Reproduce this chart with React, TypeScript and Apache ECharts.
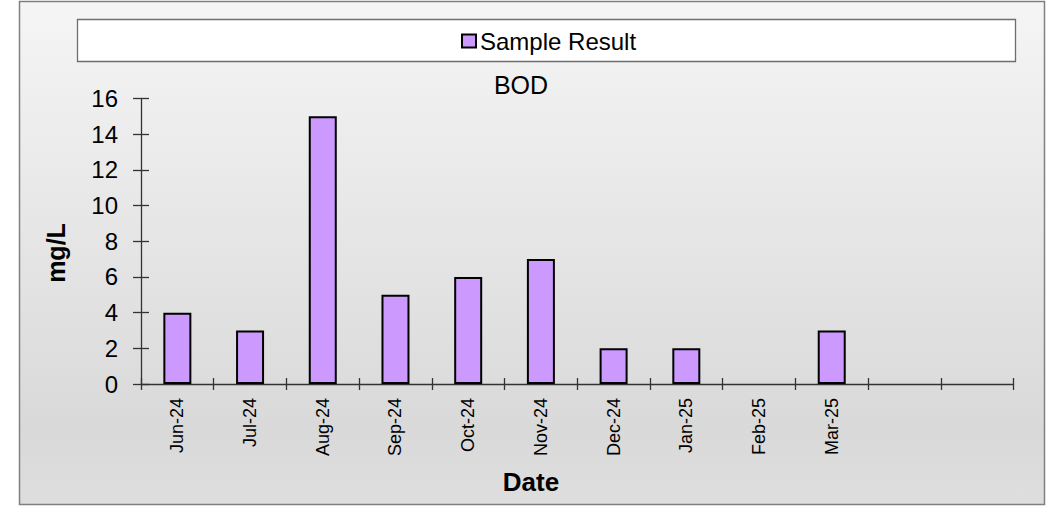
import React, { useEffect, useRef } from "react";
import * as echarts from "echarts";

const categories = ["Jun-24", "Jul-24", "Aug-24", "Sep-24", "Oct-24", "Nov-24", "Dec-24", "Jan-25", "Feb-25", "Mar-25", "", ""];
const sampleResult: (number | null)[] = [4, 3, 15, 5, 6, 7, 2, 2, null, 3, null, null];
const seriesName = "Sample Result";
const chartTitle = "BOD";
const yAxisTitle = "mg/L";
const xAxisTitle = "Date";
const yMin = 0;
const yMax = 16;
const yInterval = 2;

const FONT = "'Liberation Sans', Arial, sans-serif";

export default function App() {
  const ref = useRef<HTMLDivElement>(null);
  useEffect(() => {
    document.body.style.margin = "0";
    if (!ref.current) return;
    const chart = echarts.init(ref.current, undefined, { renderer: "svg" });
    const axisLineColor = "#333333";
    const gridPos = { left: 141, right: 34.5, top: 98.5, bottom: 123 };
    chart.setOption({
      animation: false,
      textStyle: { fontFamily: FONT },
      title: {
        text: chartTitle,
        left: 521,
        top: 72,
        textAlign: "center",
        padding: 0,
        textStyle: { fontFamily: FONT, fontSize: 25, fontWeight: "normal", color: "#000" },
      },
      legend: {
        data: [seriesName],
        left: 461,
        top: 29,
        padding: 0,
        itemWidth: 14,
        itemHeight: 13,
        icon: "rect",
        itemStyle: { color: "#CC99FF", borderColor: "#000", borderWidth: 2 },
        textStyle: { fontFamily: FONT, fontSize: 24, color: "#000", padding: [0, 0, 0, -1] },
      },
      grid: { ...gridPos, containLabel: false },
      xAxis: [
        {
          type: "category",
          data: categories,
          position: "bottom",
          axisLine: { show: true, lineStyle: { color: axisLineColor, width: 1.3 } },
          axisTick: { show: true, length: 6, alignWithLabel: false, lineStyle: { color: axisLineColor, width: 1.3 } },
          axisLabel: { rotate: 90, margin: 14, fontFamily: FONT, fontSize: 18, color: "#000", interval: 0 },
          splitLine: { show: false },
        },
        {
          type: "category",
          data: categories,
          position: "bottom",
          axisLine: { show: false },
          axisTick: { show: true, inside: true, length: 6, lineStyle: { color: axisLineColor, width: 1.3 } },
          axisLabel: { show: false },
          splitLine: { show: false },
        },
      ],
      yAxis: [
        {
          type: "value",
          min: yMin,
          max: yMax,
          interval: yInterval,
          axisLine: { show: true, lineStyle: { color: axisLineColor, width: 1.3 } },
          axisTick: { show: true, length: 8, lineStyle: { color: axisLineColor, width: 1.3 } },
          axisLabel: { margin: 23, fontFamily: FONT, fontSize: 24, color: "#000" },
          splitLine: { show: false },
        },
        {
          type: "value",
          min: yMin,
          max: yMax,
          interval: yInterval,
          position: "left",
          axisLine: { show: false },
          axisTick: { show: true, inside: true, length: 8, lineStyle: { color: axisLineColor, width: 1.3 } },
          axisLabel: { show: false },
          splitLine: { show: false },
        },
      ],
      series: [
        {
          name: seriesName,
          type: "bar",
          data: sampleResult,
          xAxisIndex: 0,
          yAxisIndex: 0,
          barWidth: 28,
          itemStyle: { color: "#CC99FF", borderColor: "#000", borderWidth: 2 },
        },
      ],
      graphic: [
        {
          type: "rect",
          z: -10,
          silent: true,
          shape: { x: 19.5, y: 1.5, width: 1025, height: 503 },
          style: {
            fill: {
              type: "linear",
              x: 0,
              y: 0,
              x2: 0,
              y2: 1,
              colorStops: [
                { offset: 0, color: "#f5f5f5" },
                { offset: 0.85, color: "#d9d9d9" },
                { offset: 1, color: "#dedede" },
              ],
            },
            stroke: "#808080",
            lineWidth: 1.5,
          },
        },
        {
          type: "rect",
          z: -9,
          silent: true,
          shape: { x: 77.5, y: 19.5, width: 938, height: 42 },
          style: { fill: "#ffffff", stroke: "#6e6e6e", lineWidth: 1.3 },
        },
        {
          type: "text",
          x: 56,
          y: 253,
          rotation: Math.PI / 2,
          style: {
            text: yAxisTitle,
            align: "center",
            verticalAlign: "middle",
            font: `bold 25px ${FONT}`,
            fill: "#000",
          },
        },
        {
          type: "text",
          x: 531,
          y: 482,
          style: {
            text: xAxisTitle,
            align: "center",
            verticalAlign: "middle",
            font: `bold 26px ${FONT}`,
            fill: "#000",
          },
        },
      ],
    });
    return () => chart.dispose();
  }, []);
  return <div ref={ref} style={{ width: 1048, height: 507 }} />;
}
